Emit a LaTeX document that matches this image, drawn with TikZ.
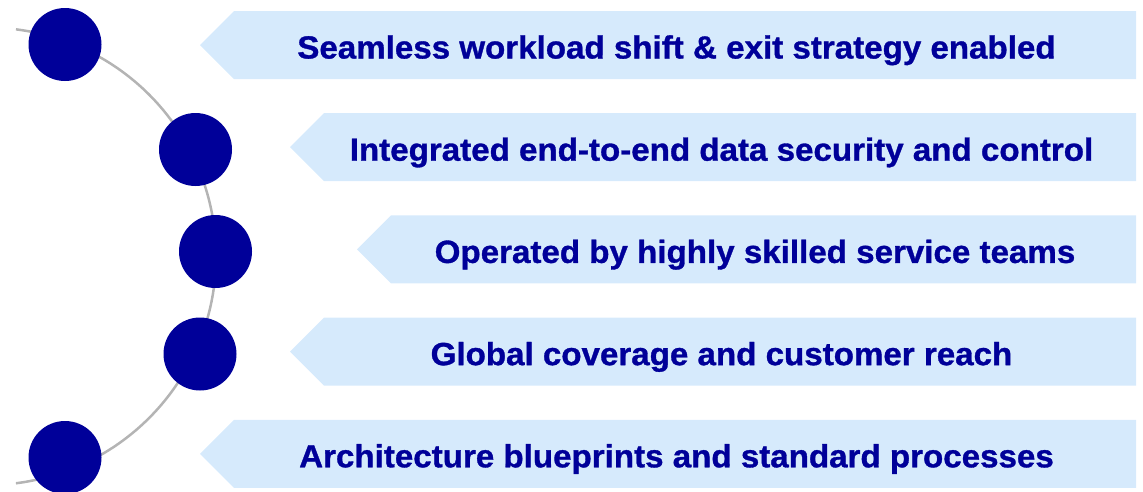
\documentclass[tikz,border=0pt]{standalone}
\usepackage{fontspec}
\newfontfamily\bannerfont{Liberation Sans}[FakeStretch=1.035, FakeBold=1]
\definecolor{navy}{RGB}{0,0,153}
\definecolor{bannerblue}{RGB}{214,234,252}
\definecolor{arcgray}{RGB}{180,180,180}
\tikzset{
  dot/.style={circle, fill=navy, draw=none, minimum size=73pt, inner sep=0pt},
  bannerfill/.style={fill=bannerblue, draw=none},
  label/.style={font=\bannerfont\bfseries\fontsize{32}{38}\selectfont, text=navy, anchor=base, inner sep=0pt},
  arcline/.style={draw=arcgray, line width=2.5pt}
}
\begin{document}
\begin{tikzpicture}[x=1pt, y=-1pt]
\useasboundingbox (0,0) rectangle (1143,491);
% banners
\foreach \t/\c in {200/45, 290/147.2, 357/249.4, 290/351.6, 200/453.8}{
  \fill[bannerfill] (\t,\c) -- (\t+34,\c-34) -- (1136,\c-34) -- (1136,\c+34) -- (\t+34,\c+34) -- cycle;
}
% arc
\coordinate (arctop) at (16,29.3);
\coordinate (arcbot) at (16,483.3);
\draw[arcline] plot[domain=-82.8:82.8, samples=80, smooth] ({-12.75+228.8*cos(\x)}, {256.3+228.8*sin(\x)});
% circles
\node[dot] (c1) at (65,44.5) {};
\node[dot] (c2) at (195.5,149.5) {};
\node[dot] (c3) at (215.5,251.5) {};
\node[dot] (c4) at (200,354) {};
\node[dot] (c5) at (65,457.5) {};
% labels
\node[label] (t1) at (676.5,58.5) {Seamless workload shift \& exit strategy enabled};
\node[label] (t2) at (721.5,160.7) {Integrated end-to-end data security and control};
\node[label] (t3) at (755,262.9) {Operated by highly skilled service teams};
\node[label] (t4) at (721.5,365.1) {Global coverage and customer reach};
\node[label] (t5) at (676.5,467.3) {Architecture blueprints and standard processes};
\end{tikzpicture}
\end{document}
